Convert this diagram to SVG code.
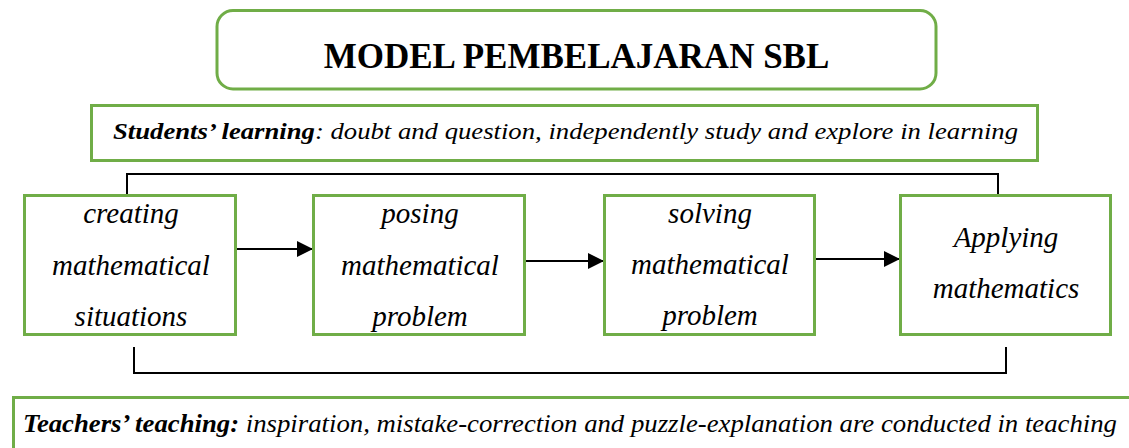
<svg xmlns="http://www.w3.org/2000/svg" width="1129" height="448" viewBox="0 0 1129 448">
<style>
.box{fill:#fff;stroke:#70AD47;stroke-width:3}
.t{font-family:"Liberation Serif","Times New Roman",serif;fill:#000}
.it{font-style:italic}
.b{font-weight:bold}
.step{font-family:"Liberation Serif","Times New Roman",serif;font-style:italic;font-size:29px;text-anchor:middle;fill:#000}
.con{fill:none;stroke:#000;stroke-width:2}
</style>
<defs>
<marker id="ah" markerWidth="16" markerHeight="16" viewBox="0 0 16 16" refX="16" refY="8" orient="auto" markerUnits="userSpaceOnUse">
<path d="M0,0 L16,8 L0,16 Z" fill="#000"/>
</marker>
</defs>
<rect width="1129" height="448" fill="#fff"/>
<g id="title">
<rect class="box" x="217" y="10.5" width="719" height="78.5" rx="16"/>
<text class="t b" x="576.5" y="68" font-size="35" text-anchor="middle">MODEL PEMBELAJARAN SBL</text>
</g>
<g id="students">
<rect class="box" x="91.5" y="105.5" width="946" height="55"/>
<text class="t" x="113" y="139" font-size="24" textLength="905" lengthAdjust="spacingAndGlyphs"><tspan class="b it">Students’ learning</tspan><tspan class="it">: doubt and question, independently study and explore in learning</tspan></text>
</g>
<g id="connectors">
<path class="con" d="M127,195 V174 H998 V195"/>
<path class="con" d="M134,347 V373 H1006 V347"/>
<line class="con" x1="236" y1="249" x2="313" y2="249" marker-end="url(#ah)"/>
<line class="con" x1="525" y1="261" x2="604" y2="261" marker-end="url(#ah)"/>
<line class="con" x1="815" y1="259" x2="900" y2="259" marker-end="url(#ah)"/>
</g>
<g id="creating">
<rect class="box" x="24.5" y="195.5" width="211" height="139"/>
<text class="step" x="131" y="223">creating</text>
<text class="step" x="131" y="275">mathematical</text>
<text class="step" x="131" y="326">situations</text>
</g>
<g id="posing">
<rect class="box" x="313.5" y="195.5" width="211" height="139"/>
<text class="step" x="420" y="223">posing</text>
<text class="step" x="420" y="275">mathematical</text>
<text class="step" x="420" y="326">problem</text>
</g>
<g id="solving">
<rect class="box" x="604.5" y="195.5" width="210" height="139"/>
<text class="step" x="710" y="223">solving</text>
<text class="step" x="710" y="274">mathematical</text>
<text class="step" x="710" y="325">problem</text>
</g>
<g id="applying">
<rect class="box" x="900.5" y="195.5" width="210" height="139"/>
<text class="step" x="1006" y="247">Applying</text>
<text class="step" x="1006" y="298">mathematics</text>
</g>
<g id="teachers">
<rect class="box" x="13.5" y="397.5" width="1130" height="60"/>
<text class="t" x="23" y="432" font-size="25" textLength="1094" lengthAdjust="spacingAndGlyphs"><tspan class="b it">Teachers’ teaching:</tspan><tspan class="it"> inspiration, mistake-correction and puzzle-explanation are conducted in teaching</tspan></text>
</g>
</svg>
